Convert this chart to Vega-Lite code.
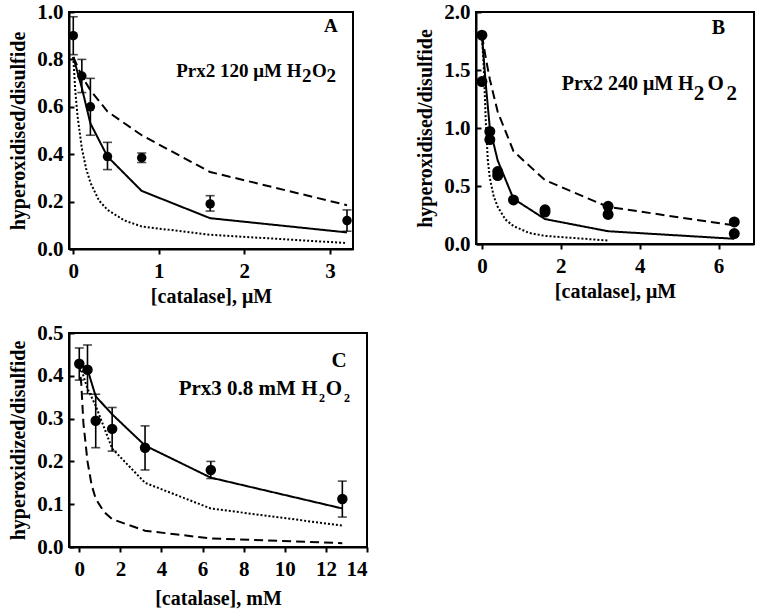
{
  "$schema": "https://vega.github.io/schema/vega-lite/v6.json",
  "background": "white",
  "padding": {"left": 7, "top": 0, "right": 0, "bottom": 0},
  "config": {
    "view": {"stroke": "black", "strokeWidth": 2},
    "font": "Liberation Serif",
    "axis": {
      "grid": false,
      "domainColor": "black", "domainWidth": 2,
      "tickColor": "black", "tickWidth": 2,
      "labelFont": "Liberation Serif", "labelFontWeight": "bold", "labelFontSize": 21, "labelColor": "black",
      "titleFont": "Liberation Serif", "titleFontWeight": "bold", "titleFontSize": 20, "titleColor": "black"
    },
    "axisX": {"tickSize": 5, "labelPadding": 6, "titlePadding": 5},
    "axisY": {"tickSize": -5, "labelPadding": 11, "titlePadding": 8}
  },
  "datasets": {
    "pointsA": [
      {"x": 0, "y": 0.90, "lo": 0.82, "hi": 0.98},
      {"x": 0.1, "y": 0.73, "lo": 0.66, "hi": 0.80},
      {"x": 0.2, "y": 0.60, "lo": 0.48, "hi": 0.72},
      {"x": 0.4, "y": 0.39, "lo": 0.335, "hi": 0.45},
      {"x": 0.8, "y": 0.385, "lo": 0.365, "hi": 0.405},
      {"x": 1.6, "y": 0.19, "lo": 0.16, "hi": 0.225},
      {"x": 3.2, "y": 0.12, "lo": 0.075, "hi": 0.165}
    ],
    "curvesA": [
      {"x": 0, "y": 0.81, "series": "s1"}, {"x": 0.1, "y": 0.68, "series": "s1"}, {"x": 0.2, "y": 0.53, "series": "s1"},
      {"x": 0.4, "y": 0.39, "series": "s1"}, {"x": 0.8, "y": 0.245, "series": "s1"}, {"x": 1.6, "y": 0.13, "series": "s1"}, {"x": 3.2, "y": 0.07, "series": "s1"},
      {"x": 0, "y": 0.81, "series": "s2"}, {"x": 0.1, "y": 0.73, "series": "s2"}, {"x": 0.2, "y": 0.67, "series": "s2"},
      {"x": 0.4, "y": 0.58, "series": "s2"}, {"x": 0.8, "y": 0.48, "series": "s2"}, {"x": 1.6, "y": 0.325, "series": "s2"}, {"x": 3.2, "y": 0.185, "series": "s2"},
      {"x": 0, "y": 0.81, "series": "s3"}, {"x": 0.025, "y": 0.66, "series": "s3"}, {"x": 0.05, "y": 0.56, "series": "s3"},
      {"x": 0.1, "y": 0.425, "series": "s3"}, {"x": 0.15, "y": 0.34, "series": "s3"}, {"x": 0.2, "y": 0.28, "series": "s3"},
      {"x": 0.3, "y": 0.205, "series": "s3"}, {"x": 0.4, "y": 0.165, "series": "s3"}, {"x": 0.6, "y": 0.12, "series": "s3"},
      {"x": 0.8, "y": 0.095, "series": "s3"}, {"x": 1.6, "y": 0.06, "series": "s3"}, {"x": 3.2, "y": 0.025, "series": "s3"}
    ],
    "pointsB": [
      {"x": 0, "y": 1.80}, {"x": 0, "y": 1.40},
      {"x": 0.2, "y": 0.97}, {"x": 0.2, "y": 0.90},
      {"x": 0.4, "y": 0.625}, {"x": 0.4, "y": 0.59},
      {"x": 0.8, "y": 0.38},
      {"x": 1.6, "y": 0.295}, {"x": 1.6, "y": 0.275},
      {"x": 3.2, "y": 0.325}, {"x": 3.2, "y": 0.255},
      {"x": 6.4, "y": 0.19}, {"x": 6.4, "y": 0.09}
    ],
    "curvesB": [
      {"x": 0, "y": 1.8, "series": "s1"}, {"x": 0.1, "y": 1.37, "series": "s1"}, {"x": 0.2, "y": 1.0, "series": "s1"},
      {"x": 0.4, "y": 0.72, "series": "s1"}, {"x": 0.8, "y": 0.39, "series": "s1"}, {"x": 1.6, "y": 0.215, "series": "s1"},
      {"x": 3.2, "y": 0.11, "series": "s1"}, {"x": 6.4, "y": 0.045, "series": "s1"},
      {"x": 0, "y": 1.8, "series": "s2"}, {"x": 0.1, "y": 1.6, "series": "s2"}, {"x": 0.2, "y": 1.42, "series": "s2"},
      {"x": 0.4, "y": 1.14, "series": "s2"}, {"x": 0.8, "y": 0.8, "series": "s2"}, {"x": 1.6, "y": 0.55, "series": "s2"},
      {"x": 3.2, "y": 0.32, "series": "s2"}, {"x": 6.4, "y": 0.16, "series": "s2"},
      {"x": 0, "y": 1.8, "series": "s3"}, {"x": 0.05, "y": 1.5, "series": "s3"}, {"x": 0.1, "y": 1.04, "series": "s3"},
      {"x": 0.15, "y": 0.72, "series": "s3"}, {"x": 0.2, "y": 0.57, "series": "s3"}, {"x": 0.3, "y": 0.41, "series": "s3"},
      {"x": 0.4, "y": 0.32, "series": "s3"}, {"x": 0.6, "y": 0.21, "series": "s3"}, {"x": 0.8, "y": 0.155, "series": "s3"},
      {"x": 1.2, "y": 0.095, "series": "s3"}, {"x": 1.6, "y": 0.07, "series": "s3"}, {"x": 3.2, "y": 0.03, "series": "s3"}
    ],
    "pointsC": [
      {"x": 0, "y": 0.428, "lo": 0.39, "hi": 0.465},
      {"x": 0.4, "y": 0.414, "lo": 0.358, "hi": 0.472},
      {"x": 0.8, "y": 0.295, "lo": 0.232, "hi": 0.357},
      {"x": 1.6, "y": 0.276, "lo": 0.224, "hi": 0.326},
      {"x": 3.2, "y": 0.232, "lo": 0.18, "hi": 0.283},
      {"x": 6.4, "y": 0.18, "lo": 0.16, "hi": 0.2},
      {"x": 12.8, "y": 0.112, "lo": 0.07, "hi": 0.154}
    ],
    "curvesC": [
      {"x": 0, "y": 0.43, "series": "s1"}, {"x": 0.4, "y": 0.415, "series": "s1"}, {"x": 0.8, "y": 0.352, "series": "s1"},
      {"x": 1.6, "y": 0.31, "series": "s1"}, {"x": 3.2, "y": 0.237, "series": "s1"}, {"x": 6.4, "y": 0.162, "series": "s1"}, {"x": 12.8, "y": 0.09, "series": "s1"},
      {"x": 0, "y": 0.43, "series": "s2"}, {"x": 0.1, "y": 0.38, "series": "s2"}, {"x": 0.2, "y": 0.29, "series": "s2"},
      {"x": 0.4, "y": 0.2, "series": "s2"}, {"x": 0.6, "y": 0.145, "series": "s2"}, {"x": 0.8, "y": 0.113, "series": "s2"},
      {"x": 1.2, "y": 0.082, "series": "s2"}, {"x": 1.6, "y": 0.065, "series": "s2"}, {"x": 3.2, "y": 0.038, "series": "s2"},
      {"x": 6.4, "y": 0.02, "series": "s2"}, {"x": 12.8, "y": 0.009, "series": "s2"},
      {"x": 0, "y": 0.43, "series": "s3"}, {"x": 0.4, "y": 0.37, "series": "s3"}, {"x": 0.8, "y": 0.33, "series": "s3"},
      {"x": 1.6, "y": 0.23, "series": "s3"}, {"x": 3.2, "y": 0.15, "series": "s3"}, {"x": 6.4, "y": 0.09, "series": "s3"}, {"x": 12.8, "y": 0.05, "series": "s3"}
    ],
    "one": [{}]
  },
  "vconcat": [
    {
      "spacing": 60,
      "hconcat": [
        {
          "width": 284, "height": 237,
          "encoding": {
            "x": {"type": "quantitative", "scale": {"domain": [-0.05, 3.27], "nice": false, "zero": false}, "axis": {"values": [0, 1, 2, 3], "title": "[catalase], μM"}},
            "y": {"type": "quantitative", "scale": {"domain": [0, 1], "nice": false}, "axis": {"values": [0, 0.2, 0.4, 0.6, 0.8, 1.0], "format": ".1f", "title": "hyperoxidised/disulfide"}}
          },
          "layer": [
            {
              "data": {"name": "curvesA"},
              "mark": {"type": "line", "color": "black"},
              "encoding": {
                "x": {"field": "x"},
                "y": {"field": "y"},
                "strokeDash": {"field": "series", "type": "nominal", "scale": {"domain": ["s1", "s2", "s3"], "range": [[1, 0], [9, 5], [2, 2]]}, "legend": null},
                "strokeWidth": {"field": "series", "type": "nominal", "scale": {"domain": ["s1", "s2", "s3"], "range": [2, 2, 1.6]}, "legend": null}
              }
            },
            {
              "data": {"name": "pointsA"},
              "mark": {"type": "rule", "color": "black", "strokeWidth": 1.6},
              "encoding": {"x": {"field": "x"}, "y": {"field": "lo"}, "y2": {"field": "hi"}}
            },
            {
              "data": {"name": "pointsA"},
              "mark": {"type": "tick", "orient": "horizontal", "color": "black", "size": 9, "thickness": 1.6},
              "encoding": {"x": {"field": "x"}, "y": {"field": "lo"}}
            },
            {
              "data": {"name": "pointsA"},
              "mark": {"type": "tick", "orient": "horizontal", "color": "black", "size": 9, "thickness": 1.6},
              "encoding": {"x": {"field": "x"}, "y": {"field": "hi"}}
            },
            {
              "data": {"name": "pointsA"},
              "mark": {"type": "circle", "color": "black", "opacity": 1, "size": 90},
              "encoding": {"x": {"field": "x"}, "y": {"field": "y"}}
            },
            {
              "data": {"name": "one"},
              "mark": {"type": "text", "fontWeight": "bold", "fontSize": 19, "align": "center", "baseline": "alphabetic", "color": "black"},
              "encoding": {"x": {"datum": 3.01}, "y": {"datum": 0.915}, "text": {"value": "A"}}
            },
            {
              "data": {"name": "one"},
              "mark": {"type": "text", "fontWeight": "bold", "fontSize": 19, "align": "right", "baseline": "alphabetic", "color": "black"},
              "encoding": {"x": {"datum": 2.667}, "y": {"datum": 0.727}, "text": {"value": "Prx2 120 μM H"}}
            },
            {
              "data": {"name": "one"},
              "mark": {"type": "text", "fontWeight": "bold", "fontSize": 19, "align": "left", "baseline": "alphabetic", "color": "black"},
              "encoding": {"x": {"datum": 2.675}, "y": {"datum": 0.703}, "text": {"value": "2"}}
            },
            {
              "data": {"name": "one"},
              "mark": {"type": "text", "fontWeight": "bold", "fontSize": 19, "align": "left", "baseline": "alphabetic", "color": "black"},
              "encoding": {"x": {"datum": 2.79}, "y": {"datum": 0.727}, "text": {"value": "O"}}
            },
            {
              "data": {"name": "one"},
              "mark": {"type": "text", "fontWeight": "bold", "fontSize": 19, "align": "left", "baseline": "alphabetic", "color": "black"},
              "encoding": {"x": {"datum": 2.96}, "y": {"datum": 0.703}, "text": {"value": "2"}}
            }
          ]
        },
        {
          "width": 278, "height": 232,
          "encoding": {
            "x": {"type": "quantitative", "scale": {"domain": [-0.15, 6.9], "nice": false, "zero": false}, "axis": {"values": [0, 2, 4, 6], "title": "[catalase], μM"}},
            "y": {"type": "quantitative", "scale": {"domain": [0, 2], "nice": false}, "axis": {"values": [0, 0.5, 1.0, 1.5, 2.0], "format": ".1f", "title": "hyperoxidised/disulfide"}}
          },
          "layer": [
            {
              "data": {"name": "curvesB"},
              "mark": {"type": "line", "color": "black"},
              "encoding": {
                "x": {"field": "x"},
                "y": {"field": "y"},
                "strokeDash": {"field": "series", "type": "nominal", "scale": {"domain": ["s1", "s2", "s3"], "range": [[1, 0], [9, 5], [2, 2]]}, "legend": null},
                "strokeWidth": {"field": "series", "type": "nominal", "scale": {"domain": ["s1", "s2", "s3"], "range": [2, 2, 1.6]}, "legend": null}
              }
            },
            {
              "data": {"name": "pointsB"},
              "mark": {"type": "circle", "color": "black", "opacity": 1, "size": 120},
              "encoding": {"x": {"field": "x"}, "y": {"field": "y"}}
            },
            {
              "data": {"name": "one"},
              "mark": {"type": "text", "fontWeight": "bold", "fontSize": 20, "align": "center", "baseline": "alphabetic", "color": "black"},
              "encoding": {"x": {"datum": 6.0}, "y": {"datum": 1.81}, "text": {"value": "B"}}
            },
            {
              "data": {"name": "one"},
              "mark": {"type": "text", "fontWeight": "bold", "fontSize": 20, "align": "right", "baseline": "alphabetic", "color": "black"},
              "encoding": {"x": {"datum": 5.37}, "y": {"datum": 1.33}, "text": {"value": "Prx2 240 μM H"}}
            },
            {
              "data": {"name": "one"},
              "mark": {"type": "text", "fontWeight": "bold", "fontSize": 21, "align": "left", "baseline": "alphabetic", "color": "black"},
              "encoding": {"x": {"datum": 5.37}, "y": {"datum": 1.24}, "text": {"value": "2"}}
            },
            {
              "data": {"name": "one"},
              "mark": {"type": "text", "fontWeight": "bold", "fontSize": 21, "align": "left", "baseline": "alphabetic", "color": "black"},
              "encoding": {"x": {"datum": 5.72}, "y": {"datum": 1.33}, "text": {"value": "O"}}
            },
            {
              "data": {"name": "one"},
              "mark": {"type": "text", "fontWeight": "bold", "fontSize": 21, "align": "left", "baseline": "alphabetic", "color": "black"},
              "encoding": {"x": {"datum": 6.2}, "y": {"datum": 1.24}, "text": {"value": "2"}}
            }
          ]
        }
      ]
    },
    {
      "width": 298, "height": 214,
      "encoding": {
        "x": {"type": "quantitative", "scale": {"domain": [-0.5, 14], "nice": false, "zero": false}, "axis": {"values": [0, 2, 4, 6, 8, 10, 12, 14], "title": "[catalase], mM", "titlePadding": 9}},
        "y": {"type": "quantitative", "scale": {"domain": [0, 0.5], "nice": false}, "axis": {"values": [0, 0.1, 0.2, 0.3, 0.4, 0.5], "format": ".1f", "title": "hyperoxidized/disulfide"}}
      },
      "layer": [
        {
          "data": {"name": "curvesC"},
          "mark": {"type": "line", "color": "black"},
          "encoding": {
            "x": {"field": "x"},
            "y": {"field": "y"},
            "strokeDash": {"field": "series", "type": "nominal", "scale": {"domain": ["s1", "s2", "s3"], "range": [[1, 0], [9, 5], [2, 3]]}, "legend": null},
            "strokeWidth": {"field": "series", "type": "nominal", "scale": {"domain": ["s1", "s2", "s3"], "range": [2, 2, 1.6]}, "legend": null}
          }
        },
        {
          "data": {"name": "pointsC"},
          "mark": {"type": "rule", "color": "black", "strokeWidth": 1.6},
          "encoding": {"x": {"field": "x"}, "y": {"field": "lo"}, "y2": {"field": "hi"}}
        },
        {
          "data": {"name": "pointsC"},
          "mark": {"type": "tick", "orient": "horizontal", "color": "black", "size": 9, "thickness": 1.6},
          "encoding": {"x": {"field": "x"}, "y": {"field": "lo"}}
        },
        {
          "data": {"name": "pointsC"},
          "mark": {"type": "tick", "orient": "horizontal", "color": "black", "size": 9, "thickness": 1.6},
          "encoding": {"x": {"field": "x"}, "y": {"field": "hi"}}
        },
        {
          "data": {"name": "pointsC"},
          "mark": {"type": "circle", "color": "black", "opacity": 1, "size": 110},
          "encoding": {"x": {"field": "x"}, "y": {"field": "y"}}
        },
        {
          "data": {"name": "one"},
          "mark": {"type": "text", "fontWeight": "bold", "fontSize": 21, "align": "center", "baseline": "alphabetic", "color": "black"},
          "encoding": {"x": {"datum": 12.64}, "y": {"datum": 0.42}, "text": {"value": "C"}}
        },
        {
          "data": {"name": "one"},
          "mark": {"type": "text", "fontWeight": "bold", "fontSize": 21, "align": "right", "baseline": "alphabetic", "color": "black"},
          "encoding": {"x": {"datum": 11.59}, "y": {"datum": 0.354}, "text": {"value": "Prx3 0.8 mM H"}}
        },
        {
          "data": {"name": "one"},
          "mark": {"type": "text", "fontWeight": "bold", "fontSize": 12, "align": "left", "baseline": "alphabetic", "color": "black"},
          "encoding": {"x": {"datum": 11.67}, "y": {"datum": 0.338}, "text": {"value": "2"}}
        },
        {
          "data": {"name": "one"},
          "mark": {"type": "text", "fontWeight": "bold", "fontSize": 21, "align": "left", "baseline": "alphabetic", "color": "black"},
          "encoding": {"x": {"datum": 11.99}, "y": {"datum": 0.354}, "text": {"value": "O"}}
        },
        {
          "data": {"name": "one"},
          "mark": {"type": "text", "fontWeight": "bold", "fontSize": 12, "align": "left", "baseline": "alphabetic", "color": "black"},
          "encoding": {"x": {"datum": 12.88}, "y": {"datum": 0.338}, "text": {"value": "2"}}
        }
      ]
    }
  ],
  "spacing": 14
}
